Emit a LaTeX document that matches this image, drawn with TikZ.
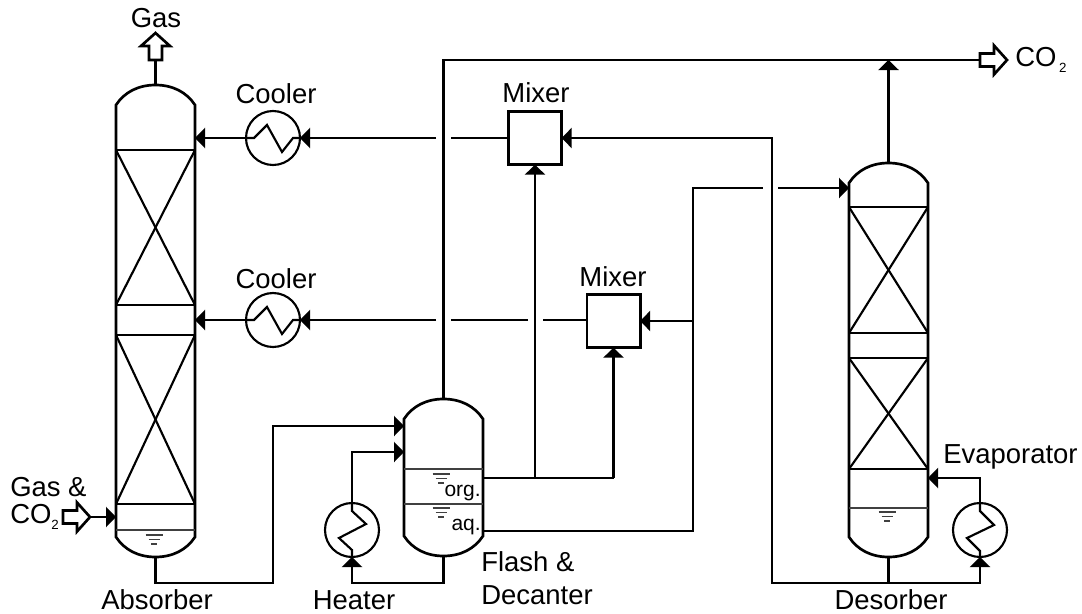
\documentclass[tikz,border=0pt]{standalone}
\usepackage{fontspec}
\setmainfont{Liberation Sans}
\usepackage{tikz}
\usetikzlibrary{arrows.meta}

\newcommand{\sublabel}{\raisebox{-5pt}{\fontsize{10}{12}\selectfont 2}}

\tikzset{
    lbl/.style={font=\fontsize{20.6}{24}\selectfont, inner sep=0pt},
    lblsmall/.style={font=\fontsize{15.75}{18}\selectfont, inner sep=0pt},
    wall/.style={line width=2pt},
    thinwall/.style={line width=0.8pt, black!75},
    pipe/.style={line width=1.7pt},
    feed/.style={pipe, -{Triangle[length=7.5pt,width=15pt]}},
    exchanger/.style={draw, circle, line width=1.6pt, minimum size=40.5pt, inner sep=0pt, outer sep=0pt},
    mixerbox/.style={draw, wall, minimum size=40pt, inner sep=0pt, outer sep=0pt},
    vesselbox/.style={minimum width=59.25pt, inner sep=0pt, outer sep=0pt},
    blockarrow/.pic={\draw[wall, fill=white] (0,-6.5) -- (14,-6.5) -- (14,-14.5) -- (27,0) -- (14,14.5) -- (14,6.5) -- (0,6.5) -- cycle;},
}

\begin{document}
\begin{tikzpicture}[x=0.75pt, y=-0.75pt]
    \useasboundingbox (0,0) rectangle (1082,614);

    % vessels
    \node[vesselbox, minimum height=354pt] (absorber) at (155.5,321) {};
    \node[vesselbox, minimum height=117.75pt] (flash) at (443.5,477.5) {};
    \node[vesselbox, minimum height=295.5pt] (desorber) at (888.5,360) {};
    \foreach \vx/\vt/\vb in {155.5/85/557, 443.5/399/556, 888.5/163/557} {
        \draw[wall] (\vx-39.5,\vt+20) .. controls (\vx-31,\vt+7) and (\vx-17,\vt) .. (\vx,\vt)
            .. controls (\vx+17,\vt) and (\vx+31,\vt+7) .. (\vx+39.5,\vt+20)
            -- (\vx+39.5,\vb-20) .. controls (\vx+31,\vb-7) and (\vx+17,\vb) .. (\vx,\vb)
            .. controls (\vx-17,\vb) and (\vx-31,\vb-7) .. (\vx-39.5,\vb-20) -- cycle;
    }

    % packings
    \foreach \vx/\pt/\pb in {155.5/150/305, 155.5/335/504, 888.5/207/333, 888.5/358/469} {
        \draw[wall] (\vx-39.5,\pt) rectangle (\vx+39.5,\pb);
        \draw[line width=1.6pt] (\vx-39.5,\pt) -- (\vx+39.5,\pb);
        \draw[line width=1.6pt] (\vx+39.5,\pt) -- (\vx-39.5,\pb);
    }

    % liquid levels
    \foreach \vx/\ly in {155.5/530, 443.5/469, 443.5/504, 888.5/508} {
        \draw[thinwall] (\vx-39.5,\ly) -- (\vx+39.5,\ly);
    }
    \foreach \lx/\ly in {154/535, 441/474, 441/508, 887/512} {
        \draw[thinwall] (\lx-8.5,\ly) -- (\lx+8.5,\ly);
        \draw[thinwall] (\lx-5.5,\ly+4.5) -- (\lx+5.5,\ly+4.5);
        \draw[thinwall] (\lx-3,\ly+9) -- (\lx+3,\ly+9);
    }

    % exchangers and mixers
    \node[exchanger] (coolerA) at (273,138) {};
    \node[exchanger] (coolerB) at (273,320) {};
    \node[exchanger] (heater) at (352,530) {};
    \node[exchanger] (evaporator) at (980,530) {};
    \node[mixerbox] (mixerA) at (535,138) {};
    \node[mixerbox] (mixerB) at (613.5,321) {};

    \draw[line width=1.6pt] (coolerA.west) -- (254,138) -- (267,125) -- (282,152) -- (293,138) -- (coolerA.east);
    \draw[line width=1.6pt] (coolerB.west) -- (254,320) -- (267,307) -- (282,334) -- (293,320) -- (coolerB.east);
    \draw[line width=1.6pt] (heater.north) -- (352,511) -- (366,524) -- (339,538) -- (352,550) -- (heater.south);
    \draw[line width=1.6pt] (evaporator.north) -- (980,511) -- (994,525) -- (967,538) -- (980,551) -- (evaporator.south);

    % corners and line breaks
    \coordinate (gasOut) at (155.5,60);
    \coordinate (gasIn) at (90,517);
    \coordinate (co2Out) at (980,60);
    \coordinate (feedA) at (273,583);
    \coordinate (feedB) at (273,426);
    \coordinate (heatLoop) at (352,583);
    \coordinate (heatBack) at (352,452);
    \coordinate (orgJoin) at (535,478);
    \coordinate (orgEnd) at (613.5,478);
    \coordinate (aqCorner) at (693,531);
    \coordinate (aqTop) at (693,188);
    \coordinate (aqBranch) at (693,321);
    \coordinate (leanBottom) at (772,583);
    \coordinate (leanTop) at (772,138);
    \coordinate (evapLoop) at (980,583);
    \coordinate (evapBack) at (980,478);
    \coordinate (breakA) at (451,138);
    \coordinate (breakB) at (436,138);
    \coordinate (breakC) at (543,320);
    \coordinate (breakD) at (528,320);
    \coordinate (breakE) at (451,320);
    \coordinate (breakF) at (436,320);
    \coordinate (breakG) at (763,188);
    \coordinate (breakH) at (778,188);

    % pipes
    \draw[pipe] (absorber.north) -- (gasOut);
    \draw[feed] (gasIn) -- (absorber.west |- gasIn);
    \draw[feed] (absorber.south) |- (feedA) -- (feedB) -- (flash.west |- feedB);
    \draw[feed] (flash.south) |- (heatLoop) -- (heater.south);
    \draw[feed] (heater.north) -- (heatBack) -- (flash.west |- heatBack);
    \draw[pipe] (flash.north) |- (co2Out);
    \draw[feed] (desorber.north) -- (desorber.north |- co2Out);
    \draw[feed] (coolerA.west) -- (absorber.east |- coolerA);
    \draw[feed] (coolerB.west) -- (absorber.east |- coolerB);
    \draw[pipe] (mixerA.west) -- (breakA);
    \draw[feed] (breakB) -- (coolerA.east);
    \draw[pipe] (mixerB.west |- breakC) -- (breakC);
    \draw[pipe] (breakD) -- (breakE);
    \draw[feed] (breakF) -- (coolerB.east);
    \draw[pipe] (flash.east |- orgJoin) -- (orgEnd);
    \draw[feed] (orgJoin) -- (mixerA.south);
    \draw[feed] (orgEnd) -- (mixerB.south);
    \draw[pipe] (flash.east |- aqCorner) -- (aqCorner) -- (aqTop) -- (breakG);
    \draw[feed] (breakH) -- (desorber.west |- breakH);
    \draw[feed] (aqBranch) -- (mixerB.east);
    \draw[feed] (desorber.south) |- (leanBottom) -- (leanTop) -- (mixerA.east);
    \draw[feed] (desorber.south) |- (evapLoop) -- (evaporator.south);
    \draw[feed] (evaporator.north) -- (evapBack) -- (desorber.east |- evapBack);

    % block arrows
    \pic[rotate=90] at (gasOut) {blockarrow};
    \pic at (63,517) {blockarrow};
    \pic at (co2Out) {blockarrow};

    % labels
    \node[lbl] (gasLabel) at (156,18) {Gas};
    \node[lbl, anchor=west] (feedLabelA) at (10,487) {Gas \&};
    \node[lbl, anchor=west] (feedLabelB) at (10,517) {CO\sublabel};
    \node[lbl, anchor=west] (co2Label) at (1015,60) {CO\kern2pt\sublabel};
    \node[lbl] (coolerLabelA) at (276,94) {Cooler};
    \node[lbl] (coolerLabelB) at (276,279) {Cooler};
    \node[lbl] (mixerLabelA) at (536,93) {Mixer};
    \node[lbl] (mixerLabelB) at (613,277) {Mixer};
    \node[lbl] (absorberLabel) at (157,600) {Absorber};
    \node[lbl] (heaterLabel) at (354,600) {Heater};
    \node[lbl, anchor=west] (flashLabelA) at (481,562) {Flash \&};
    \node[lbl, anchor=west] (flashLabelB) at (481,595) {Decanter};
    \node[lbl] (desorberLabel) at (891,600) {Desorber};
    \node[lbl, anchor=west] (evapLabel) at (943,457) {Evaporator};
    \node[lblsmall, anchor=east] (orgLabel) at (481,493) {org.};
    \node[lblsmall, anchor=east] (aqLabel) at (481,527) {aq.};
\end{tikzpicture}
\end{document}
